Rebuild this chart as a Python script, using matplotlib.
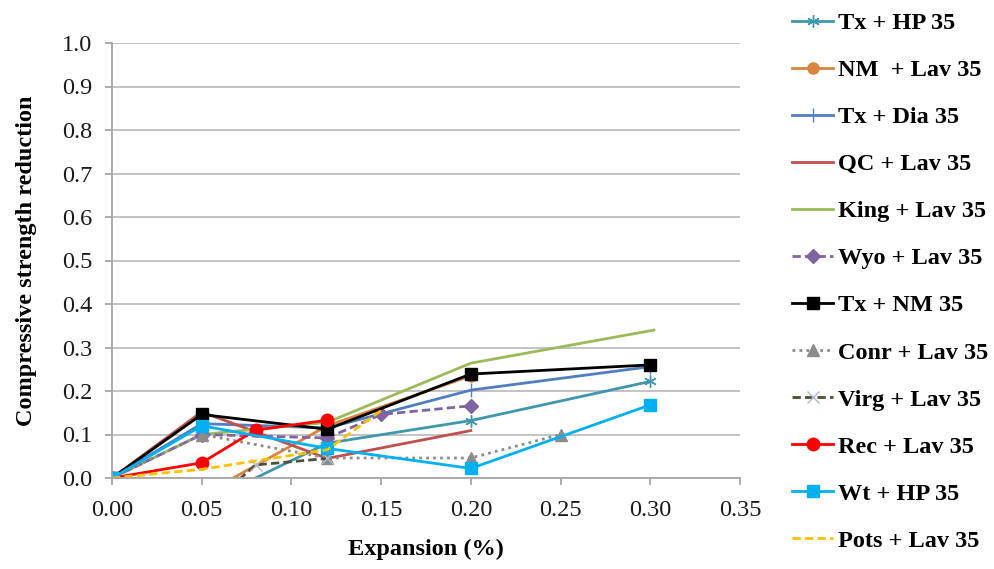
import matplotlib
matplotlib.use("Agg")
import matplotlib.pyplot as plt
import numpy as np

plt.rcParams['font.family'] = ['Liberation Serif', 'DejaVu Serif']

# ---- data ----
tx_hp_x = [0.00, 0.05, 0.12, 0.20, 0.30]
tx_hp_y = [0.00, -0.06, 0.08, 0.132, 0.222]

nm_lav_x = [0.00, 0.05, 0.12, 0.20]
nm_lav_y = [0.00, -0.04, 0.12, 0.235]

tx_dia_x = [0.00, 0.05, 0.12, 0.20, 0.30]
tx_dia_y = [0.00, 0.125, 0.115, 0.202, 0.256]

qc_lav_x = [0.00, 0.05, 0.12, 0.20]
qc_lav_y = [0.00, 0.152, 0.045, 0.109]

king_lav_x = [0.00, 0.05, 0.12, 0.20, 0.302]
king_lav_y = [0.00, 0.100, 0.128, 0.264, 0.340]

wyo_lav_x = [0.00, 0.05, 0.12, 0.15, 0.20]
wyo_lav_y = [0.00, 0.100, 0.092, 0.146, 0.166]

tx_nm_x = [0.00, 0.05, 0.12, 0.20, 0.30]
tx_nm_y = [0.00, 0.146, 0.112, 0.239, 0.260]

conr_lav_x = [0.00, 0.05, 0.12, 0.20, 0.25]
conr_lav_y = [0.00, 0.100, 0.046, 0.046, 0.100]

virg_lav_x = [0.05, 0.08, 0.12]
virg_lav_y = [-0.08, 0.03, 0.045]

rec_lav_x = [0.00, 0.05, 0.08, 0.12]
rec_lav_y = [0.00, 0.035, 0.110, 0.133]

wt_hp_x = [0.00, 0.05, 0.12, 0.20, 0.30]
wt_hp_y = [0.00, 0.120, 0.068, 0.022, 0.168]

pots_lav_x = [0.00, 0.05, 0.12, 0.15]
pots_lav_y = [0.00, 0.020, 0.065, 0.155]

x_ticks = [0.00, 0.05, 0.10, 0.15, 0.20, 0.25, 0.30, 0.35]
y_ticks = [0.0, 0.1, 0.2, 0.3, 0.4, 0.5, 0.6, 0.7, 0.8, 0.9, 1.0]

fig = plt.figure(figsize=(9.95, 5.69), dpi=100)
ax = fig.add_axes([112/995, 1-478/569, (740-112)/995, (478-43)/569])

lw = 2.0
series = [
    (tx_hp_x, tx_hp_y, "Tx + HP 35", dict(color="#3F97AD", marker=(6, 2, 0), markersize=9, linestyle='-')),
    (nm_lav_x, nm_lav_y, "NM  + Lav 35", dict(color="#D9843F", marker='o', markersize=8, linestyle='-')),
    (tx_dia_x, tx_dia_y, "Tx + Dia 35", dict(color="#4F7FC0", marker='|', markersize=10, linestyle='-')),
    (qc_lav_x, qc_lav_y, "QC + Lav 35", dict(color="#C0504D", marker=None, linestyle='-')),
    (king_lav_x, king_lav_y, "King + Lav 35", dict(color="#9BBB59", marker=None, linestyle='-')),
    (wyo_lav_x, wyo_lav_y, "Wyo + Lav 35", dict(color="#8064A2", marker='D', markersize=7, linestyle=(0, (3, 1.5)))),
    (tx_nm_x, tx_nm_y, "Tx + NM 35", dict(color="#000000", marker='s', markersize=8, linestyle='-')),
    (conr_lav_x, conr_lav_y, "Conr + Lav 35", dict(color="#8C8C8C", marker='^', markersize=8, linestyle=(0, (1, 1.5)))),
    (virg_lav_x, virg_lav_y, "Virg + Lav 35", dict(color="#4F4F3A", marker='x', markersize=8, markeredgecolor="#A9B8D6", linestyle=(0, (3, 1.5)))),
    (rec_lav_x, rec_lav_y, "Rec + Lav 35", dict(color="#FF0000", marker='o', markersize=9, linestyle='-')),
    (wt_hp_x, wt_hp_y, "Wt + HP 35", dict(color="#00B0F0", marker='s', markersize=8, linestyle='-')),
    (pots_lav_x, pots_lav_y, "Pots + Lav 35", dict(color="#FFC000", marker=None, linestyle=(0, (3, 1.5)))),
]

for xs, ys, lab, st in series:
    ax.plot(xs, ys, label=lab, linewidth=lw, clip_on=True, **st)

ax.set_xlim(0, 0.35)
ax.set_ylim(0, 1.0)
ax.set_xticks(x_ticks)
ax.set_xticklabels([f"{v:.2f}" for v in x_ticks])
ax.set_yticks(y_ticks)
ax.set_yticklabels([f"{v:.1f}" for v in y_ticks])
ax.yaxis.grid(True, color="#BEBEBE", linewidth=1.3)
ax.set_axisbelow(True)
for s in ['top', 'right']:
    ax.spines[s].set_visible(False)
for s in ['left', 'bottom']:
    ax.spines[s].set_color("#A6A6A6")
    ax.spines[s].set_linewidth(1.3)
ax.tick_params(axis='both', direction='out', length=5, width=1.3, color="#A6A6A6",
               labelsize=17.5, labelcolor="#1a1a1a")
ax.tick_params(axis='y', pad=9)
ax.tick_params(axis='x', pad=11)

ax.set_xlabel("Expansion (%)", fontsize=17.5, fontweight='bold', labelpad=13)
ax.set_ylabel("Compressive strength reduction", fontsize=17.5, fontweight='bold', labelpad=18)

leg = fig.legend(loc='upper left', bbox_to_anchor=(780/995, 1.0), frameon=False,
                 prop=dict(size=17.5, weight='bold'), handlelength=1.7, handletextpad=0.2,
                 labelspacing=1.03, borderaxespad=0.1)

fig.savefig("out.png", dpi=100)
